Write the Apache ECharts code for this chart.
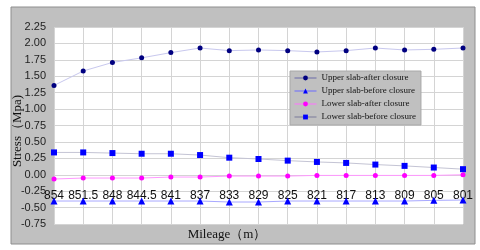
<!DOCTYPE html>
<html>
<head>
<meta charset="utf-8">
<script src="https://cdn.jsdelivr.net/npm/echarts@6/dist/echarts.min.js"></script>
<style>html,body{margin:0;padding:0;background:#fff;}#c{width:480px;height:250px;}</style>
</head>
<body>
<div id="c"></div>
<script>
const categories = ['854','851.5','848','844.5','841','837','833','829','825','821','817','813','809','805','801'];
const upperAfter = [1.36,1.58,1.71,1.78,1.86,1.93,1.89,1.90,1.89,1.87,1.89,1.93,1.90,1.91,1.93];
const upperBefore = [-0.40,-0.40,-0.40,-0.40,-0.40,-0.40,-0.415,-0.415,-0.40,-0.40,-0.40,-0.40,-0.40,-0.39,-0.385];
const lowerAfter = [-0.065,-0.05,-0.05,-0.05,-0.035,-0.035,-0.02,-0.02,-0.02,-0.01,-0.01,-0.01,-0.01,-0.01,0.0];
const lowerBefore = [0.34,0.34,0.33,0.32,0.32,0.30,0.26,0.24,0.215,0.195,0.18,0.155,0.135,0.11,0.085];
const seriesNames = ['Upper slab-after closure','Upper slab-before closure','Lower slab-after closure','Lower slab-before closure'];
const yTicks = {min:-0.75, max:2.25, interval:0.25};

const chart = echarts.init(document.getElementById('c'), null, {renderer:'canvas'});
const mk = (name, data, sym, size, color, lineColor) => ({
  name, type:'line', data, symbol:sym, symbolSize:size,
  itemStyle:{color}, lineStyle:{color:lineColor, width:1},
  emphasis:{disabled:true}, animation:false
});
const legendLine = ['#6a6aa8','#6a6aff','#ff70ff','#7a7a9a'];
chart.setOption({
  animation:false,
  backgroundColor:'#ffffff',
  graphic:[
    {type:'rect', z:-100, shape:{x:11, y:7, width:464, height:237}, style:{fill:'#c0c0c0', stroke:'#8e8e8e', lineWidth:1}},
    {type:'text', z:100, x:227, y:235, style:{text:'Mileage（m）', font:'13px "Liberation Serif"', fill:'#111', align:'center', verticalAlign:'middle'}},
    {type:'text', z:100, x:18, y:131, rotation:Math.PI/2, style:{text:'Stress（Mpa)', font:'13px "Liberation Serif"', fill:'#111', align:'center', verticalAlign:'middle'}}
  ],
  grid:{left:54, right:17, top:27, bottom:26, show:true, backgroundColor:'#ffffff', borderWidth:0},
  legend:{
    data:seriesNames.map((n,i)=>({name:n, lineStyle:{color:legendLine[i], width:1}})),
    orient:'vertical', left:290, top:71,
    backgroundColor:'#c0c0c0', borderColor:'#a8a8a8', borderWidth:1,
    padding:[1,5,2,4], itemGap:1, itemWidth:22, itemHeight:6,
    textStyle:{fontFamily:'Liberation Serif', fontSize:9, color:'#111', lineHeight:12}
  },
  xAxis:{
    type:'category', data:categories, boundaryGap:false,
    offset:-49,
    axisLine:{show:false, onZero:false},
    axisTick:{show:false},
    axisLabel:{margin:15, fontFamily:'Liberation Sans', fontSize:12, color:'#111', interval:0},
    splitLine:{show:true, lineStyle:{color:'#d4d4d4', width:1}}
  },
  yAxis:{
    type:'value', min:yTicks.min, max:yTicks.max, interval:yTicks.interval,
    axisLine:{show:false}, axisTick:{show:false},
    axisLabel:{margin:8, fontFamily:'Liberation Sans', fontSize:11, color:'#222', padding:[10,0,0,0],
      formatter:v=>v.toFixed(2)},
    splitLine:{show:true, lineStyle:{color:'#d4d4d4', width:1}}
  },
  series:[
    mk(seriesNames[0], upperAfter, 'circle', 5, '#000080', '#c8c8ee'),
    mk(seriesNames[1], upperBefore, 'triangle', 7, '#0000ff', '#a8a8ff'),
    mk(seriesNames[2], lowerAfter, 'circle', 5, '#ff00ff', '#ff99ff'),
    mk(seriesNames[3], lowerBefore, 'rect', 6, '#0000ff', '#c4c4d4')
  ]
});
</script>
</body>
</html>
